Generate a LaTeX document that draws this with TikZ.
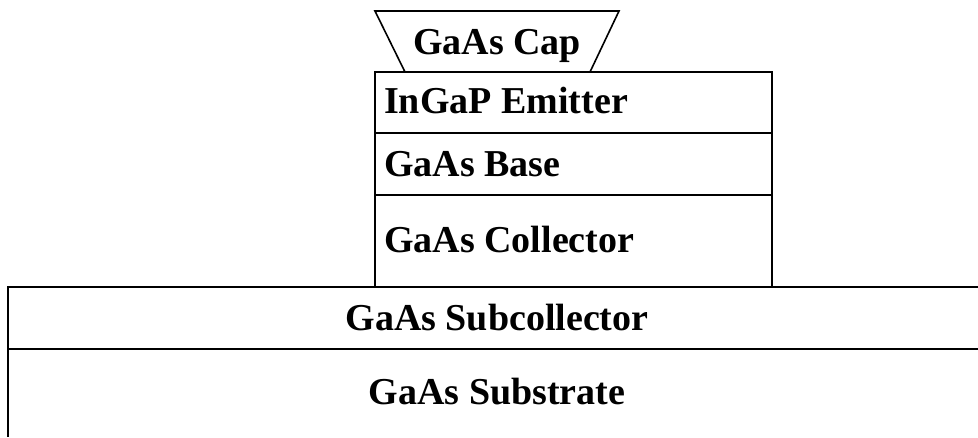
\documentclass[tikz,border=0pt]{standalone}
\usepackage{fontspec}
\setmainfont{Liberation Serif}
\usepackage{tikz}
\usetikzlibrary{positioning}
\tikzstyle{layer} = [draw=black, line width=1.6pt]
\tikzstyle{lbl} = [inner sep=0pt, font=\fontsize{38}{40}\selectfont\bfseries]

\begin{document}
\begin{tikzpicture}[x=1pt, y=-1pt]
        \useasboundingbox (0,0) rectangle (978,437);
        % substrate and subcollector
        \draw [layer] (978,287) -- (8,287) -- (8,437);
        \draw [layer] (8,349) -- (978,349);
        % mesa
        \draw [layer] (375,287) rectangle (772,72);
        \draw [layer] (375,133) -- (772,133);
        \draw [layer] (375,195) -- (772,195);
        % cap
        \draw [layer] (405,72) -- (375,11) -- (619,11) -- (590,72);

        \node (cap) [lbl, anchor=base] at (497,54) {GaAs Cap};
        \node (emitter) [lbl, anchor=base west] at (384,113) {InGaP Emitter};
        \node (base) [lbl, anchor=base west] at (384,176) {GaAs Base};
        \node (collector) [lbl, anchor=base west] at (384,252) {GaAs Collector};
        \node (subcoll) [lbl, anchor=base] at (497,330) {GaAs Subcollector};
        \node (substrate) [lbl, anchor=base] at (497,404) {GaAs Substrate};
    \end{tikzpicture}
\end{document}
